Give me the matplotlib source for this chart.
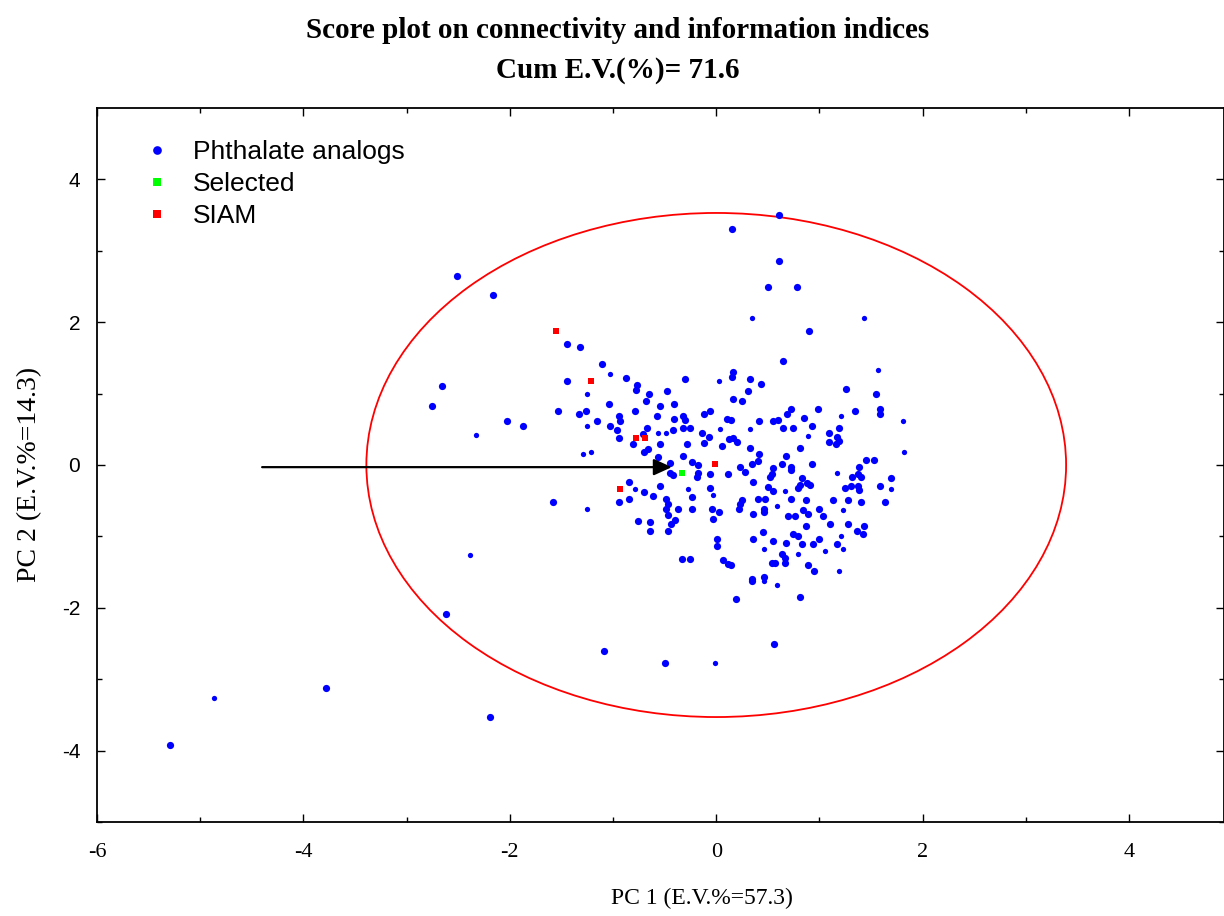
import matplotlib
matplotlib.use("Agg")
import matplotlib.pyplot as plt
from matplotlib.patches import Ellipse
import numpy as np

plt.rcParams["axes.unicode_minus"] = False

# ---------------- data ----------------
pa_x = [-2.51, -2.16, 0.15, 0.61, 0.61, 0.50, 0.78, 0.90, -2.66, -2.75, -2.03, -1.87,
        -2.62, -3.78, -5.29, -2.19, -1.09, -0.50, 0.56, 0.19, 0.81, 0.35,
        -1.45, -1.32, -1.11, -0.87, -1.45, -0.77, -0.78, -0.30, -0.65, -0.48, -0.68, -1.04,
        -0.54, -0.41, -1.53, -1.33, -1.26, -0.79, -0.57, -0.32, -0.12, -0.06, -0.94, -1.16,
        -0.93, -0.41, -0.30, 0.10, -1.03, -0.96, -0.94, -0.67, -0.71, -0.42, -0.32, -0.25,
        -0.14, -0.07, 0.12, -0.81, -0.54, -0.28, -0.12, 0.06, -0.70, -0.66, -0.56, -0.32,
        -0.45, -0.23, -0.18,
        0.65, 0.16, 0.15, 0.33, 0.43, 0.31, 1.26, 1.55, 0.16, 0.25, 0.72, 0.69, 0.99, 1.34,
        1.59, 1.59, 0.14, 0.41, 0.55, 0.60, 0.85, 0.65, 0.74, 0.93, 1.19, 1.09, 1.17, 1.19,
        0.16, 0.20, 1.09, 1.16, 0.33, 0.81, 0.41, 0.68, 0.40, 0.35, 0.64, 0.72, 0.93, 1.45,
        1.53, 1.38, 0.23, 0.55,
        -0.85, -0.70, -0.85, -0.94, -0.61, -0.54, -1.58, -0.49, -0.47, -0.49, -0.47, -0.40,
        -0.44, -0.47, -0.37, -0.23, -0.23, -0.06, -0.04, 0.03, -0.03, 0.01, 0.01, -0.76,
        -0.64, -0.64, -0.33, -0.25, 0.07, 0.11, -0.45, -0.42, -0.18, -0.19, -0.06, 0.11,
        0.28, 0.54, 0.52, 0.72, 1.69, 0.36, 0.83, 0.81, 0.88, 0.91, 0.79, 1.32, 1.37, 1.40,
        1.31, 1.37, 1.25, 1.59, 0.50, 0.55, 1.38, 0.40, 0.47, 0.72, 0.87, 1.13, 1.28, 1.40,
        1.64, 0.25, 0.23, 0.22, 0.46, 0.46, 0.84, 0.89, 1.00, 1.03, 0.36, 0.70, 0.76, 1.10,
        0.87, 1.28, 1.36, 1.43, 1.42, 0.45, 0.74, 0.79, 0.36, 0.55, 0.68, 0.83, 1.00, 0.94,
        1.17, 0.64, 0.67, 0.67, 0.54, 0.57, 0.89, 0.95, 0.35, 0.46, 0.14]
pa_y = [2.65, 2.38, 3.31, 3.50, 2.86, 2.49, 2.49, 1.87, 1.10, 0.82, 0.61, 0.54,
        -2.09, -3.13, -3.92, -3.53, -2.61, -2.78, -2.50, -1.88, -1.85, -1.62,
        1.70, 1.65, 1.42, 1.22, 1.17, 1.12, 1.05, 1.20, 1.00, 1.03, 0.89, 0.86,
        0.83, 0.86, 0.75, 0.72, 0.75, 0.75, 0.69, 0.69, 0.72, 0.75, 0.69, 0.61,
        0.61, 0.65, 0.63, 0.65, 0.54, 0.49, 0.38, 0.52, 0.44, 0.49, 0.52, 0.52,
        0.45, 0.39, 0.37, 0.30, 0.30, 0.30, 0.31, 0.27, 0.18, 0.23, 0.11, 0.13,
        0.03, 0.04, 0.00,
        1.45, 1.30, 1.23, 1.20, 1.14, 1.04, 1.06, 1.00, 0.92, 0.89, 0.78, 0.71, 0.78, 0.75,
        0.78, 0.71, 0.63, 0.61, 0.61, 0.63, 0.66, 0.52, 0.52, 0.55, 0.52, 0.45, 0.39, 0.34,
        0.38, 0.32, 0.32, 0.30, 0.24, 0.24, 0.16, 0.13, 0.06, 0.01, 0.01, -0.03, 0.01, 0.07,
        0.07, -0.03, -0.03, -0.04,
        -0.24, -0.38, -0.47, -0.52, -0.44, -0.30, -0.52, -0.47, -0.54, -0.61, -0.70, -0.77,
        -0.82, -0.93, -0.61, -0.61, -0.45, -0.32, -0.61, -0.66, -0.75, -1.03, -1.13, -0.79,
        -0.80, -0.93, -1.31, -1.31, -1.33, -1.38, -0.11, -0.14, -0.11, -0.17, -0.13, -0.13,
        -0.10, -0.13, -0.17, -0.07, -0.18, -0.24, -0.18, -0.28, -0.25, -0.28, -0.32, -0.17,
        -0.12, -0.17, -0.29, -0.29, -0.32, -0.30, -0.31, -0.37, -0.35, -0.47, -0.47, -0.47,
        -0.49, -0.49, -0.49, -0.52, -0.52, -0.49, -0.54, -0.61, -0.61, -0.66, -0.63, -0.68,
        -0.61, -0.72, -0.69, -0.72, -0.72, -0.83, -0.86, -0.83, -0.92, -0.86, -0.96, -0.94,
        -0.96, -1.00, -1.03, -1.06, -1.09, -1.11, -1.03, -1.11, -1.11, -1.24, -1.30, -1.37,
        -1.37, -1.37, -1.40, -1.48, -1.59, -1.57, -1.40]

pa_small_x = [-2.33, -2.39, -4.87, -0.01, 0.59, 0.46, 0.35, 1.43, -1.03, 0.03, -1.25, -1.25,
              -0.56, -0.49, 0.04, -1.29, -1.21, 1.57, 1.21, 1.81, 0.33, 0.89, 1.82, -1.25,
              -0.79, -0.27, -0.03, 1.17, 1.69, 0.67, 0.59, 1.23, 1.21, 1.23, 0.46, 1.05,
              0.79, 1.19]
pa_small_y = [0.42, -1.26, -3.27, -2.78, -1.68, -1.62, 2.06, 2.06, 1.27, 1.17, 1.00, 0.54,
              0.45, 0.45, 0.51, 0.16, 0.18, 1.33, 0.69, 0.61, 0.51, 0.41, 0.18, -0.61,
              -0.34, -0.34, -0.42, -0.11, -0.34, -0.37, -0.58, -0.63, -1.00, -1.18, -1.18,
              -1.21, -1.24, -1.48]

sel_x = [-0.33]
sel_y = [-0.11]

siam_x = [-1.55, -1.21, -0.78, -0.69, -0.01, -0.93]
siam_y = [1.87, 1.17, 0.38, 0.38, 0.01, -0.34]

ellipse_w = 6.78
ellipse_h = 7.06
arrow_start = (-4.40, -0.03)
arrow_end = (-0.43, -0.03)

title1 = "Score plot on connectivity and information indices"
title2 = "Cum E.V.(%)= 71.6"
xlabel = "PC 1 (E.V.%=57.3)"
ylabel = "PC 2 (E.V.%=14.3)"
legend_labels = ["Phthalate analogs", "Selected", "SIAM"]

# ---------------- figure ----------------
W, H = 1224, 916
fig = plt.figure(figsize=(W / 100, H / 100), dpi=100)
ax = fig.add_axes([97 / W, (H - 822) / H, (W - 97) / W, (822 - 108) / H])

serif = "Liberation Serif"
sans = "Liberation Sans"

ax.set_xlim(-6, 4.92)
ax.set_ylim(-5, 5)

ax.add_patch(Ellipse((0, 0), ellipse_w, ellipse_h, fill=False, edgecolor="#ff0000", lw=1.3, zorder=2))

h1, = ax.plot(pa_x, pa_y, "o", color="#0000ff", ms=5.2, mec="#0000ff", mew=0, zorder=3)
ax.plot(pa_small_x, pa_small_y, "o", color="#0000ff", ms=3.8, mew=0, zorder=3)
h2, = ax.plot(sel_x, sel_y, "s", color="#00ff00", ms=5, mew=0, zorder=4)
h3, = ax.plot(siam_x, siam_y, "s", color="#ff0000", ms=5, mew=0, zorder=4)

ax.annotate("", xy=arrow_end, xytext=arrow_start,
            arrowprops=dict(arrowstyle="-|>,head_length=1.1,head_width=0.5", color="black",
                            lw=1.6, shrinkA=0, shrinkB=0), zorder=5)

ax.set_xticks([-6, -4, -2, 0, 2, 4])
ax.set_yticks([-4, -2, 0, 2, 4])
ax.set_xticks(np.arange(-5, 5, 2), minor=True)
ax.set_yticks([-5, -3, -1, 1, 3], minor=True)
ax.tick_params(which="both", direction="in", top=True, right=True, color="black")
ax.tick_params(which="major", length=6, width=1)
ax.tick_params(which="minor", length=3.5, width=1)
ax.tick_params(axis="x", which="major", pad=15, labelsize=16)
ax.tick_params(axis="y", which="major", pad=12, labelsize=15)
for lab in ax.get_xticklabels():
    lab.set_fontfamily(serif)
for lab in ax.get_yticklabels():
    lab.set_fontfamily(sans)
for sp in ax.spines.values():
    sp.set_linewidth(1.3)

leg = ax.legend([h1, h2, h3], legend_labels, loc="upper left", bbox_to_anchor=(0.0417, 0.955),
                frameon=False, prop={"family": sans, "size": 19}, handlelength=1.0,
                handletextpad=0.85, labelspacing=0.3, borderpad=0, borderaxespad=0,
                markerscale=1.2)

fig.text(618 / W, 1 - 30 / H, title1, ha="center", va="center", fontsize=21,
         fontweight="bold", family=serif)
fig.text(618 / W, 1 - 70 / H, title2, ha="center", va="center", fontsize=21,
         fontweight="bold", family=serif)
fig.text(702 / W, 1 - 898 / H, xlabel, ha="center", va="center", fontsize=17, family=serif)
fig.text(30 / W, 1 - 474 / H, ylabel, ha="center", va="center", fontsize=20, family=serif,
         rotation=90)

fig.savefig("out.png", dpi=100)
